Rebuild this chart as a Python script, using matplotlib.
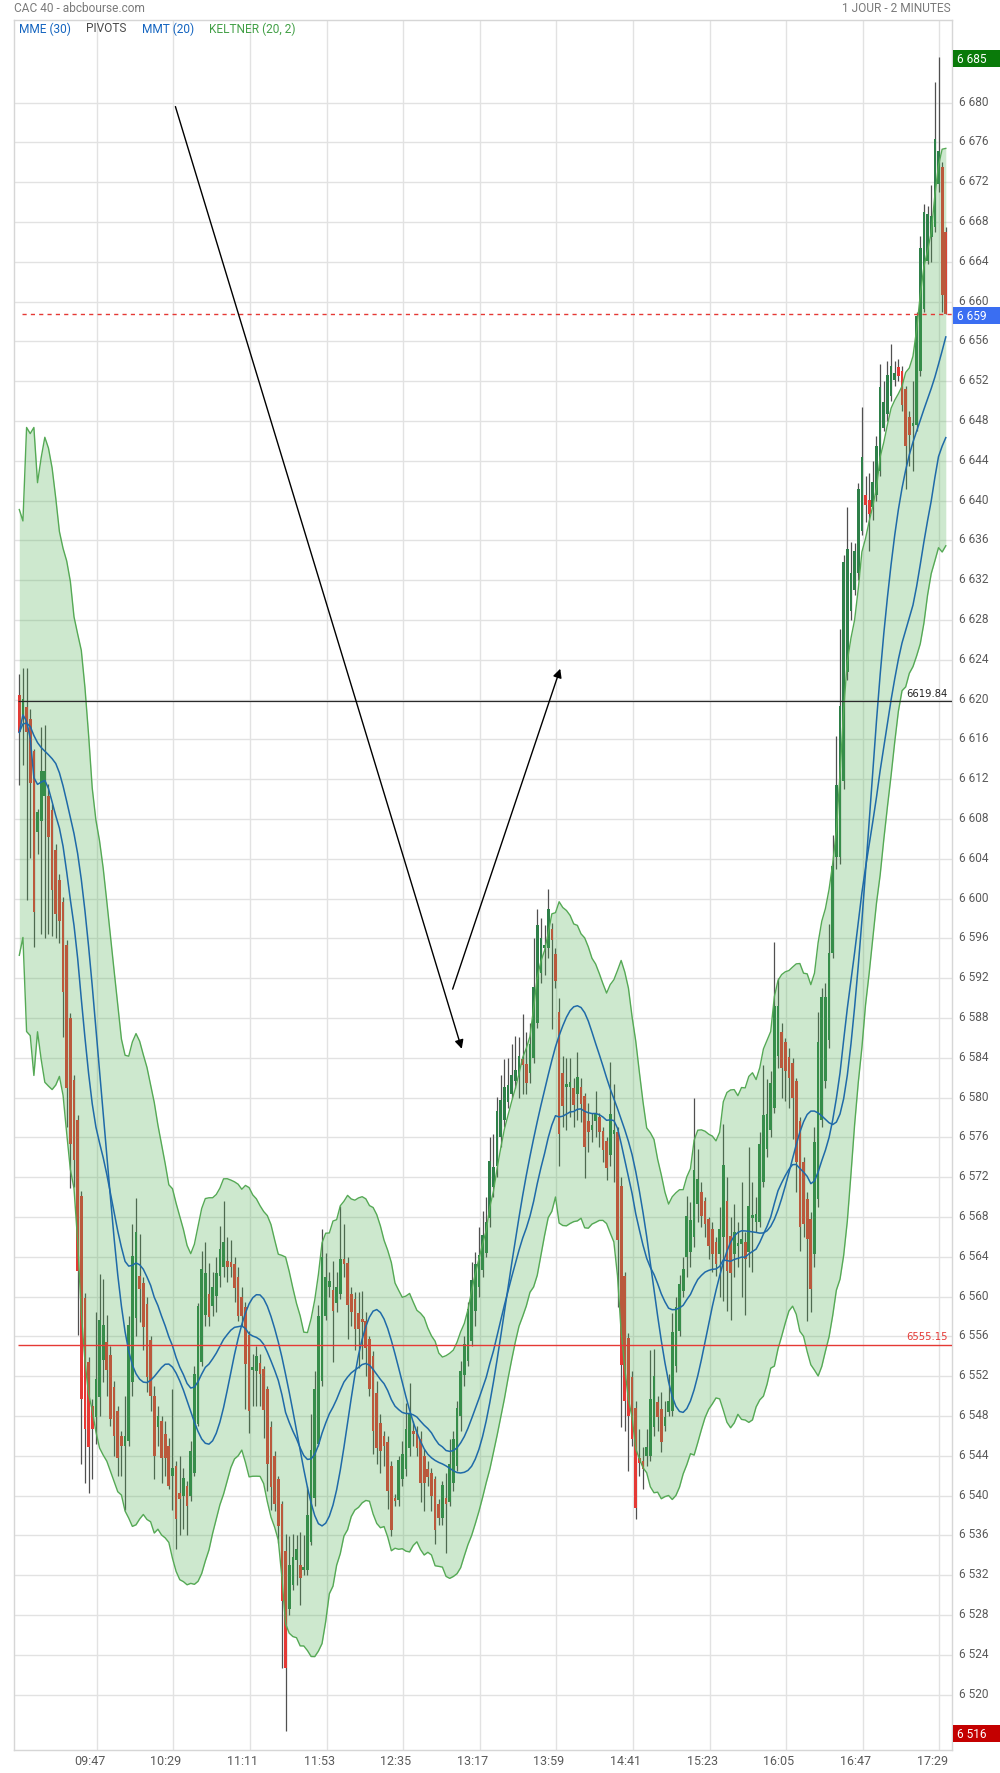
import numpy as np
import pandas as pd
import matplotlib
matplotlib.use("Agg")
import matplotlib.pyplot as plt
import matplotlib.transforms as mtrans
from matplotlib.patches import Rectangle

plt.rcParams['font.family'] = ['Roboto', 'DejaVu Sans']

# ---------------- data (2-minute candles, 09:00 -> 17:30) ----------------
opens = [
 6620.5, 6618.5, 6619.3, 6618.0, 6614.8, 6606.7, 6607.8, 6610.3, 6610.3, 6608.9,
 6604.9, 6601.9, 6599.7, 6595.3, 6588.0, 6581.8, 6577.7, 6570.1, 6559.9, 6553.4,
 6549.0, 6547.9, 6549.9, 6553.6, 6555.4, 6554.1, 6550.9, 6548.5, 6546.0, 6545.0,
 6545.5, 6551.4, 6557.8, 6562.1, 6561.4, 6559.3, 6555.6, 6550.0, 6546.9, 6547.5,
 6546.2, 6545.0, 6542.0, 6543.0, 6540.3, 6540.0, 6541.0, 6540.0, 6542.3, 6547.2,
 6553.4, 6558.1, 6560.3, 6559.1, 6560.1, 6562.1, 6563.0, 6563.6, 6563.5, 6563.3,
 6562.0, 6560.0, 6559.0, 6556.1, 6552.6, 6552.5, 6553.3, 6552.7, 6550.7, 6546.9,
 6544.0, 6541.7, 6539.2, 6534.4, 6528.6, 6531.0, 6533.5, 6533.0, 6532.5, 6532.5,
 6535.3, 6539.8, 6545.2, 6551.5, 6558.0, 6561.0, 6560.7, 6559.4, 6560.3, 6563.8,
 6563.4, 6560.3, 6559.8, 6558.3, 6557.6, 6557.5, 6555.7, 6554.0, 6550.3, 6547.3,
 6546.0, 6545.4, 6543.0, 6539.7, 6539.6, 6541.7, 6542.7, 6544.8, 6546.5, 6546.3,
 6545.7, 6544.0, 6542.7, 6542.3, 6541.7, 6539.2, 6537.7, 6539.8, 6539.4, 6541.3,
 6543.0, 6548.0, 6552.1, 6553.5, 6555.5, 6558.6, 6561.0, 6562.7, 6564.4, 6567.9,
 6571.0, 6573.1, 6576.0, 6577.7, 6579.6, 6580.4, 6581.7, 6582.1, 6583.9, 6583.4,
 6582.5, 6584.0, 6587.5, 6592.5, 6595.0, 6595.0, 6596.9, 6594.4, 6588.6, 6582.5,
 6581.1, 6581.1, 6581.0, 6580.4, 6581.1, 6580.2, 6577.6, 6576.7, 6577.6, 6578.0,
 6576.6, 6575.6, 6574.2, 6576.3, 6576.5, 6571.1, 6562.1, 6555.8, 6551.9, 6548.8,
 6543.8, 6543.5, 6544.0, 6544.0, 6546.9, 6549.4, 6548.7, 6547.0, 6548.4, 6548.5,
 6553.0, 6556.5, 6560.6, 6564.0, 6564.5, 6566.0, 6569.3, 6570.5, 6569.6, 6567.8,
 6566.8, 6565.5, 6564.3, 6566.0, 6569.6, 6566.1, 6564.3, 6565.1, 6565.3, 6565.5,
 6564.5, 6567.9, 6567.5, 6567.5, 6571.5, 6574.8, 6576.7, 6579.0, 6584.2, 6586.6,
 6585.6, 6584.1, 6583.5, 6581.7, 6577.6, 6573.5, 6569.8, 6567.8, 6564.3, 6569.8,
 6577.7, 6581.7, 6585.8, 6594.5, 6604.2, 6604.2, 6611.8, 6622.8, 6628.9, 6631.0,
 6632.7, 6636.9, 6640.6, 6640.1, 6639.4, 6640.6, 6643.0, 6647.3, 6648.7, 6650.5,
 6652.1, 6653.4, 6653.0, 6651.2, 6648.4, 6647.5, 6647.6, 6653.0, 6659.3, 6664.1,
 6666.5, 6667.5, 6671.8, 6673.5, 6667.0,
]
highs = [
 6622.6, 6623.2, 6623.2, 6619.1, 6615.0, 6609.0, 6617.2, 6617.4, 6611.5, 6609.5,
 6605.5, 6602.5, 6600.2, 6595.8, 6588.5, 6582.3, 6578.2, 6570.6, 6560.4, 6553.9,
 6549.7, 6558.4, 6562.3, 6561.8, 6558.1, 6555.0, 6551.5, 6549.0, 6546.5, 6550.0,
 6558.0, 6567.3, 6569.9, 6566.3, 6562.0, 6560.0, 6556.0, 6551.0, 6549.0, 6548.0,
 6547.5, 6545.8, 6550.7, 6543.5, 6544.0, 6542.8, 6541.5, 6545.5, 6553.0, 6559.4,
 6564.6, 6565.5, 6563.4, 6562.5, 6564.0, 6567.1, 6569.6, 6566.0, 6565.7, 6564.0,
 6563.0, 6561.0, 6559.5, 6556.5, 6554.2, 6555.0, 6554.2, 6553.0, 6551.0, 6547.5,
 6544.5, 6542.0, 6539.5, 6536.1, 6535.9, 6536.1, 6536.0, 6536.3, 6536.0, 6541.0,
 6548.2, 6552.5, 6559.2, 6566.8, 6564.4, 6562.5, 6563.6, 6562.5, 6569.1, 6567.3,
 6564.0, 6561.0, 6560.5, 6560.5, 6560.6, 6558.5, 6556.0, 6554.5, 6551.5, 6548.2,
 6546.5, 6546.0, 6543.5, 6540.2, 6544.0, 6545.5, 6549.3, 6551.3, 6547.5, 6547.0,
 6546.5, 6544.7, 6543.5, 6542.8, 6542.0, 6539.7, 6541.5, 6542.3, 6545.7, 6546.5,
 6549.5, 6553.5, 6556.0, 6559.5, 6563.5, 6564.5, 6567.0, 6568.6, 6570.0, 6576.0,
 6576.3, 6580.1, 6582.3, 6583.9, 6584.0, 6585.4, 6586.2, 6586.1, 6588.4, 6586.6,
 6587.5, 6596.0, 6599.0, 6598.0, 6597.3, 6601.0, 6597.5, 6595.0, 6590.0, 6584.2,
 6584.0, 6584.0, 6582.0, 6584.6, 6582.0, 6580.5, 6579.5, 6578.5, 6580.7, 6578.5,
 6577.0, 6576.0, 6583.6, 6581.4, 6577.0, 6572.0, 6562.5, 6556.3, 6552.5, 6549.5,
 6546.7, 6544.9, 6546.7, 6554.6, 6554.7, 6550.0, 6550.4, 6549.5, 6552.2, 6558.3,
 6560.0, 6562.2, 6564.0, 6570.1, 6569.5, 6580.0, 6574.8, 6571.5, 6570.0, 6568.0,
 6567.5, 6566.0, 6569.0, 6577.3, 6572.0, 6568.0, 6569.3, 6567.5, 6571.5, 6566.5,
 6575.0, 6571.5, 6570.0, 6576.5, 6583.3, 6581.9, 6582.7, 6595.6, 6592.0, 6587.5,
 6586.0, 6585.0, 6584.0, 6582.0, 6578.0, 6574.0, 6570.5, 6568.5, 6577.0, 6588.6,
 6591.0, 6591.5, 6597.4, 6606.4, 6616.3, 6627.1, 6634.5, 6639.4, 6635.8, 6635.7,
 6641.8, 6649.4, 6642.5, 6642.8, 6644.0, 6646.5, 6653.7, 6652.0, 6654.0, 6655.7,
 6654.0, 6654.2, 6653.5, 6651.5, 6649.0, 6652.0, 6659.0, 6666.6, 6669.8, 6669.6,
 6671.7, 6682.1, 6684.6, 6674.0, 6667.5,
]
lows = [
 6611.4, 6613.4, 6599.9, 6604.1, 6595.1, 6604.5, 6596.4, 6596.0, 6596.4, 6596.2,
 6596.0, 6595.5, 6586.1, 6577.0, 6570.9, 6571.0, 6556.1, 6543.2, 6541.3, 6540.3,
 6541.7, 6545.2, 6548.0, 6551.4, 6550.0, 6547.0, 6544.0, 6542.0, 6542.0, 6538.6,
 6545.0, 6550.0, 6556.0, 6557.4, 6554.6, 6550.4, 6548.5, 6541.7, 6545.0, 6541.3,
 6542.0, 6540.7, 6538.6, 6534.6, 6536.0, 6536.6, 6536.0, 6539.5, 6542.0, 6547.0,
 6553.0, 6557.0, 6557.0, 6558.0, 6558.5, 6561.0, 6562.0, 6561.5, 6562.0, 6559.5,
 6557.5, 6557.0, 6548.7, 6546.3, 6549.0, 6549.0, 6549.0, 6545.8, 6540.5, 6538.6,
 6538.5, 6535.2, 6522.7, 6516.3, 6528.0, 6530.5, 6531.0, 6529.0, 6532.0, 6532.0,
 6535.0, 6539.0, 6545.0, 6551.0, 6557.6, 6560.0, 6553.4, 6558.5, 6559.8, 6562.0,
 6555.7, 6557.0, 6554.6, 6552.8, 6553.7, 6552.0, 6550.0, 6544.2, 6543.2, 6542.3,
 6543.0, 6538.7, 6535.9, 6539.0, 6539.0, 6541.0, 6542.0, 6544.0, 6545.0, 6544.0,
 6539.4, 6538.5, 6541.0, 6538.5, 6535.1, 6537.0, 6537.0, 6534.2, 6539.0, 6540.5,
 6542.5, 6546.5, 6551.0, 6553.0, 6555.0, 6557.0, 6560.0, 6562.0, 6564.0, 6567.0,
 6570.0, 6572.0, 6575.0, 6577.0, 6579.0, 6580.0, 6581.0, 6580.0, 6580.4, 6580.4,
 6581.5, 6583.5, 6587.0, 6591.5, 6592.3, 6594.0, 6586.9, 6591.0, 6573.1, 6577.0,
 6576.7, 6578.0, 6577.0, 6577.7, 6577.5, 6571.9, 6574.5, 6575.5, 6576.0, 6575.0,
 6573.5, 6571.7, 6573.1, 6571.5, 6559.0, 6546.9, 6546.5, 6542.5, 6545.0, 6537.6,
 6542.0, 6540.7, 6543.0, 6543.5, 6546.0, 6546.5, 6544.4, 6546.5, 6548.0, 6548.0,
 6552.4, 6556.0, 6560.0, 6562.0, 6563.0, 6565.0, 6567.5, 6567.0, 6566.0, 6563.8,
 6562.5, 6562.1, 6560.0, 6559.6, 6558.6, 6557.6, 6562.0, 6563.0, 6560.0, 6558.1,
 6563.0, 6562.5, 6566.5, 6567.0, 6571.0, 6574.0, 6576.0, 6578.5, 6583.0, 6580.0,
 6579.7, 6579.0, 6575.8, 6570.5, 6564.6, 6566.0, 6557.5, 6558.4, 6563.0, 6569.0,
 6577.0, 6581.0, 6585.0, 6594.0, 6603.0, 6603.5, 6611.0, 6622.0, 6628.0, 6630.5,
 6632.0, 6636.5, 6637.8, 6634.9, 6638.0, 6640.0, 6642.5, 6647.0, 6648.0, 6650.0,
 6651.5, 6652.0, 6649.0, 6641.2, 6643.5, 6643.0, 6647.0, 6652.5, 6659.0, 6663.8,
 6664.0, 6667.0, 6671.0, 6659.0, 6658.8,
]
closes = [
 6616.7, 6620.1, 6616.7, 6611.6, 6598.7, 6608.7, 6612.8, 6612.8, 6606.2, 6600.9,
 6598.5, 6597.7, 6590.6, 6581.0, 6575.3, 6573.7, 6562.6, 6549.7, 6546.7, 6544.9,
 6546.7, 6551.7, 6557.6, 6557.1, 6552.6, 6547.7, 6546.0, 6543.8, 6545.0, 6546.0,
 6557.1, 6564.1, 6566.5, 6560.8, 6556.9, 6551.9, 6550.0, 6544.0, 6548.0, 6543.8,
 6543.8, 6541.0, 6542.8, 6537.6, 6539.7, 6541.8, 6539.0, 6544.5, 6552.2, 6559.1,
 6562.8, 6562.4, 6557.9, 6561.0, 6562.4, 6564.8, 6565.5, 6563.0, 6563.0, 6560.9,
 6558.0, 6558.0, 6553.2, 6548.5, 6552.9, 6554.0, 6552.2, 6548.6, 6543.2, 6540.9,
 6539.2, 6536.9, 6529.4, 6522.7, 6533.0, 6533.8, 6534.6, 6531.7, 6532.8, 6538.0,
 6544.6, 6550.7, 6558.0, 6564.0, 6562.0, 6561.6, 6558.6, 6561.0, 6563.8, 6563.3,
 6559.2, 6558.4, 6556.7, 6556.7, 6557.4, 6554.8, 6550.7, 6546.5, 6544.8, 6544.5,
 6545.0, 6540.5, 6536.5, 6539.5, 6543.6, 6544.2, 6546.7, 6548.2, 6546.2, 6544.8,
 6541.3, 6541.3, 6541.9, 6540.0, 6536.5, 6537.7, 6541.1, 6539.2, 6543.2, 6545.7,
 6548.8, 6552.5, 6555.2, 6558.8, 6561.7, 6563.3, 6564.2, 6566.2, 6567.5, 6573.6,
 6573.0, 6578.7, 6579.8, 6581.1, 6581.3, 6582.3, 6582.8, 6584.2, 6583.3, 6581.5,
 6585.4, 6591.1, 6597.3, 6596.0, 6595.2, 6599.0, 6595.8, 6591.7, 6576.3, 6579.2,
 6581.4, 6581.6, 6579.3, 6582.1, 6579.4, 6575.0, 6576.5, 6577.2, 6578.5, 6576.5,
 6574.7, 6572.9, 6578.4, 6576.7, 6565.7, 6553.1, 6549.5, 6548.0, 6545.7, 6538.8,
 6543.3, 6542.7, 6544.9, 6549.7, 6552.0, 6547.9, 6545.4, 6547.9, 6549.5, 6556.4,
 6559.0, 6561.3, 6562.8, 6568.1, 6567.7, 6572.7, 6571.8, 6568.1, 6567.3, 6565.1,
 6564.3, 6563.3, 6566.8, 6573.2, 6562.6, 6562.4, 6566.5, 6565.4, 6565.8, 6563.8,
 6569.1, 6568.0, 6568.3, 6575.3, 6578.2, 6578.4, 6581.5, 6589.2, 6589.2, 6583.0,
 6582.7, 6582.0, 6580.0, 6573.5, 6567.0, 6567.3, 6565.8, 6560.8, 6575.5, 6585.6,
 6590.1, 6590.1, 6594.5, 6603.3, 6611.4, 6619.4, 6633.8, 6635.1, 6632.7, 6634.9,
 6641.2, 6644.4, 6639.6, 6638.7, 6641.9, 6645.5, 6651.4, 6649.9, 6652.6, 6653.5,
 6652.8, 6652.5, 6649.6, 6645.5, 6646.6, 6647.7, 6658.6, 6665.4, 6669.0, 6668.8,
 6668.6, 6676.3, 6675.1, 6660.7, 6658.8,
]

time_labels = ["09:47", "10:29", "11:11", "11:53", "12:35", "13:17",
               "13:59", "14:41", "15:23", "16:05", "16:47", "17:29"]
price_ticks = list(range(6520, 6681, 4))

pivot_high = 6619.84
pivot_low = 6555.15

arrow1 = [(42.8, 6679.6), (121.3, 6584.9)]
arrow2 = [(118.8, 6590.9), (148.3, 6623.1)]

# ---------------- figure ----------------
W, H = 1000, 1774
fig = plt.figure(figsize=(W / 100, H / 100), dpi=100)
ax_top, ax_bot = 20.7, 1751.0
ax = fig.add_axes([14 / W, 1 - ax_bot / H, 938 / W, (ax_bot - ax_top) / H])

o = np.array(opens); h = np.array(highs); l = np.array(lows); c = np.array(closes)
n = len(c)
x = np.arange(n)

GREEN = '#2e8049'
RED = '#e53935'
cols = [GREEN if cc >= oo else RED for oo, cc in zip(o, c)]

ax.vlines(x, l, h, color='#505050', lw=0.9, zorder=2)
ax.bar(x, np.maximum(np.abs(c - o), 0.3), bottom=np.minimum(o, c), width=0.74,
       color=cols, linewidth=0, zorder=2.2)

# Keltner (20, 2): EMA20 of close +/- 2 x EMA20 of the candle range
cs = pd.Series(c)
rng = pd.Series(h - l)
mid = cs.ewm(span=20, adjust=False).mean()
atr = rng.ewm(span=20, adjust=True).mean()
up = mid + 2 * atr
lo = mid - 2 * atr
ax.fill_between(x, lo, up, color='#4caf50', alpha=0.28, lw=0, zorder=3)
ax.plot(x, up, color='#55a955', lw=1.0, zorder=3.5)
ax.plot(x, lo, color='#55a955', lw=1.0, zorder=3.5)

# MME(30) and MMT(20)
mme = cs.ewm(span=30, adjust=True).mean()
mmt = cs.rolling(10, min_periods=1).mean().rolling(11, min_periods=1).mean()
ax.plot(x, mme, color='#1f6aa8', lw=1.1, zorder=4)
ax.plot(x, mmt, color='#1f6aa8', lw=1.1, zorder=4)

xmin, xmax = -1.45, 255.7
ymin, ymax = 6514.43, 6688.33
ax.set_xlim(xmin, xmax)
ax.set_ylim(ymin, ymax)

last_price = c[-1]
day_high = h.max()
day_low = l.min()

# pivots
ax.hlines(pivot_high, -0.3, xmax, color='#2a2a2a', lw=0.9, zorder=4.5)
ax.hlines(pivot_low, -0.3, xmax, color=RED, lw=1.0, zorder=4.5)
ax.text(254.6, pivot_high + 0.35, f"{pivot_high:.2f}", ha='right', va='bottom',
        fontsize=7.2, color='#222', family='DejaVu Sans', zorder=6)
ax.text(254.6, pivot_low + 0.35, f"{pivot_low:.2f}", ha='right', va='bottom',
        fontsize=7.2, color=RED, family='DejaVu Sans', zorder=6)
ax.hlines(last_price, 0.8, xmax, color=RED, lw=1.0, linestyles=(0, (3, 3)), zorder=4.5)

# arrows
for a in (arrow1, arrow2):
    ax.annotate('', xy=a[1], xytext=a[0],
                arrowprops=dict(arrowstyle='-|>', color='black', lw=1.0,
                                mutation_scale=13, shrinkA=0, shrinkB=0), zorder=6)

def fmt(v):
    s = f"{int(round(v)):d}"
    return s[0] + " " + s[1:]

# grid / ticks
ax.set_yticks(price_ticks)
ax.set_yticklabels([fmt(v) for v in price_ticks])
ax.yaxis.tick_right()
ax.tick_params(axis='y', length=0, pad=5, labelsize=8.6, labelcolor='#5a5a5a')
up_shift = mtrans.ScaledTranslation(0, 3 / 100, fig.dpi_scale_trans)
for lab in ax.get_yticklabels():
    lab.set_transform(lab.get_transform() + up_shift)

def t2idx(t):
    hh, mm = t.split(':')
    m = (int(hh) - 9) * 60 + int(mm)
    return (m - 4.5) / 2.0

xt = [t2idx(t) for t in time_labels]
ax.set_xticks(xt)
ax.set_xticklabels([])
ax.tick_params(axis='x', length=0)
bt_x = mtrans.blended_transform_factory(ax.transData, ax.transAxes)
for t, p in zip(time_labels, xt):
    ax.text(p - 2.0, -11 / (ax_bot - ax_top), t, transform=bt_x, ha='center', va='center',
            fontsize=9, color='#5a5a5a', clip_on=False)

ax.grid(True, color='#e2e2e2', lw=1.0, zorder=0)
ax.set_axisbelow(True)
for sp in ax.spines.values():
    sp.set_color('#d6d6d6')
    sp.set_linewidth(1.0)

# badges on the price scale
bt_y = mtrans.blended_transform_factory(fig.transFigure, ax.transData)
bh = 17 / 9.95
down = 1.8 / 9.95
for val, col in ((day_high, '#0a7a0a'), (last_price, '#3a6ef2'), (day_low, '#c40000')):
    yc = val - down
    ax.add_patch(Rectangle((953 / W, yc - bh / 2), 47 / W, bh, transform=bt_y,
                           facecolor=col, edgecolor='none', clip_on=False, zorder=7))
    ax.text(957 / W, yc, fmt(val), transform=bt_y, ha='left', va='center',
            fontsize=8.6, color='white', clip_on=False, zorder=8)

# header and legend
fig.text(14 / W, 1 - 8 / H, "CAC 40 - abcbourse.com", ha='left', va='center',
         fontsize=8.6, color='#7a7a7a')
fig.text(951 / W, 1 - 8 / H, "1 JOUR - 2 MINUTES", ha='right', va='center',
         fontsize=8.6, color='#7a7a7a')
legend_items = [("MME (30)", '#1565c0', 19), ("PIVOTS", '#4a4a4a', 86),
                ("MMT (20)", '#1565c0', 142), ("KELTNER (20, 2)", '#43a047', 209)]
for txt, col, px in legend_items:
    fig.text(px / W, 1 - 29 / H, txt, ha='left', va='center', fontsize=8.6, color=col)

fig.savefig('out.png', dpi=100)
